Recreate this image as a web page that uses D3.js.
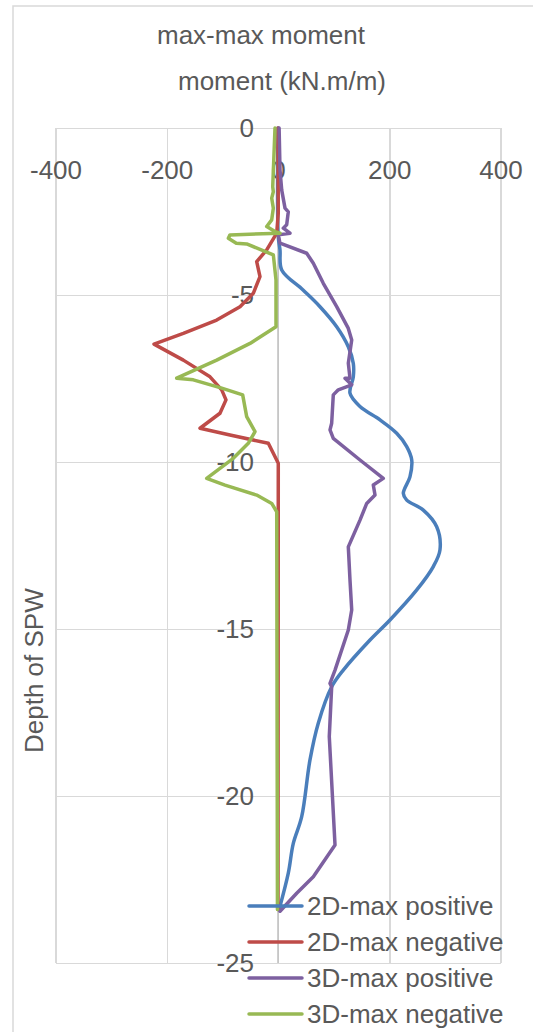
<!DOCTYPE html>
<meta charset="utf-8">
<style>
body { margin: 0; background: #fff; }
text { font-family: "Liberation Sans", Arial, sans-serif; fill: #595959; }
.grid line { stroke: #d9d9d9; stroke-width: 1.5px; shape-rendering: crispEdges; }
.grid path { stroke-width: 0; }
.axis path, .axis line { stroke: none; }
.axis text { font-size: 26px; fill: #595959; }
.series { fill: none; stroke-width: 3.5px; stroke-linejoin: round; stroke-linecap: round; }
</style>
<body>
<script src="https://d3js.org/d3.v7.min.js"></script>
<script>

// tick values
var xTicks = [-400, -200, 0, 200, 400];
var yTicks = [0, -5, -10, -15, -20, -25];

// 2D-max positive
var pos2dDepth = [0, -3.25, -3.65, -4.25, -4.85, -5.35, -5.95, -6.55, -7.05, -7.45, -7.94, -8.34, -8.74, -9.14, -9.54, -9.94, -10.44, -10.94, -11.14, -11.44, -11.94, -12.63, -13.13, -13.83, -14.73, -15.33, -16.23, -16.73, -17.82, -18.92, -20.62, -21.42, -22.31, -23.4];
var pos2dValue = [0, 0.5, 3.6, 6.7, 45, 75.5, 105.5, 126.4, 135.4, 135.4, 129.4, 147.4, 183.4, 213.4, 231.4, 240.4, 237.3, 225.3, 231.4, 261.2, 285.3, 291.2, 279.2, 249.4, 201.3, 165.4, 117.4, 96.5, 72.4, 57.5, 42.6, 27.5, 18.5, 2];

// 2D-max negative
var neg2dDepth = [0, -2.54, -3.15, -3.65, -4.0, -4.45, -4.95, -5.35, -5.75, -6.15, -6.47, -6.95, -7.45, -7.84, -8.14, -8.54, -8.99, -9.19, -9.44, -10.04, -23.4];
var neg2dValue = [0, 0.5, -2.3, -20.3, -38.3, -32.4, -44.4, -68.3, -110.2, -170.2, -222.9, -170.2, -122.2, -101.2, -93.5, -104.3, -140.2, -86.3, -17.4, 0.5, 0];

// 3D-max positive
var pos3dDepth = [0, -1.26, -1.86, -2.40, -2.51, -2.90, -3.0, -3.15, -3.2, -3.45, -3.75, -4.05, -4.65, -5.35, -6.0, -6.35, -7.04, -7.49, -7.49, -7.69, -7.84, -7.99, -8.84, -9.04, -9.29, -9.94, -10.49, -10.69, -10.99, -11.24, -11.74, -12.54, -13.53, -14.43, -15.03, -16.23, -16.63, -16.73, -18.22, -21.47, -22.42, -22.91, -23.45];
var pos3dValue = [2, 3.6, 6.7, 12.6, 18.5, 15.6, 9.5, 21.6, 0.5, 3.6, 51.6, 63.5, 81.4, 105.5, 126.4, 132.5, 126.4, 129.4, 120.4, 132.5, 108.4, 99.4, 96.5, 93.5, 99.4, 147.4, 189.3, 171.3, 174.4, 159.5, 147.4, 126.4, 129.4, 132.5, 126.4, 102.5, 93.5, 96.5, 92.2, 102.5, 63.5, 33.6, 3.6];

// 3D-max negative
var neg3dDepth = [0, -1.76, -1.91, -2.10, -2.40, -2.75, -2.95, -3.10, -3.15, -3.20, -3.30, -3.45, -3.47, -3.80, -4.55, -5.95, -6.45, -6.95, -7.49, -7.54, -7.79, -7.99, -8.64, -9.09, -9.44, -9.89, -10.49, -10.69, -10.99, -11.24, -11.49, -23.4];
var neg3dValue = [-5.4, -9.5, -8.4, -11.3, -8.4, -11.3, -20.3, -5.4, 3.6, -86.3, -89.3, -75, -56.3, -8.4, -3.6, -3.6, -50.3, -110.2, -182.1, -152.3, -101.2, -63.5, -56.3, -41.3, -53.4, -80.4, -128.2, -95.3, -38.3, -11.3, -2.3, -1];

var seriesNames = ["2D-max positive", "2D-max negative", "3D-max positive", "3D-max negative"];
var seriesColors = ["#4a7ebb", "#be4b48", "#7d60a0", "#98b954"];

var series = [
  {name: seriesNames[0], color: seriesColors[0], depth: pos2dDepth, value: pos2dValue, smooth: true},
  {name: seriesNames[1], color: seriesColors[1], depth: neg2dDepth, value: neg2dValue},
  {name: seriesNames[2], color: seriesColors[2], depth: pos3dDepth, value: pos3dValue},
  {name: seriesNames[3], color: seriesColors[3], depth: neg3dDepth, value: neg3dValue}
];

var W = 533, H = 1032;
var plot = {left: 55.5, right: 500.5, top: 128, bottom: 963};

var x = d3.scaleLinear().domain([-400, 400]).range([plot.left, plot.right]);
var y = d3.scaleLinear().domain([0, -25]).range([plot.top, plot.bottom]);

// plain hyphen for negatives, like the original
var fmt = function(d) { return String(d); };

var svg = d3.select("body").append("svg")
    .attr("width", W)
    .attr("height", H);

// chart area border
svg.append("rect")
    .attr("x", 13).attr("y", 6)
    .attr("width", 560).attr("height", 1060)
    .attr("fill", "none")
    .attr("stroke", "#d9d9d9")
    .attr("stroke-width", 1.5);

// vertical gridlines
svg.append("g")
    .attr("class", "grid")
    .attr("transform", "translate(0," + plot.top + ")")
    .call(d3.axisBottom(x).tickValues(xTicks)
        .tickSize(plot.bottom - plot.top)
        .tickFormat(""));

// horizontal gridlines
svg.append("g")
    .attr("class", "grid")
    .attr("transform", "translate(" + plot.left + ",0)")
    .call(d3.axisRight(y).tickValues(yTicks)
        .tickSize(plot.right - plot.left)
        .tickFormat(""));

// vertical axis line at zero
svg.append("line")
    .attr("x1", x(0)).attr("x2", x(0))
    .attr("y1", plot.top).attr("y2", plot.bottom)
    .attr("stroke", "#bfbfbf")
    .attr("stroke-width", 1.5);

// x axis labels (below the top edge)
svg.append("g")
    .attr("class", "axis")
    .attr("transform", "translate(0," + plot.top + ")")
    .call(d3.axisBottom(x).tickValues(xTicks).tickFormat(fmt).tickSize(0).tickPadding(33));

// y axis labels
svg.append("g")
    .attr("class", "axis")
    .attr("transform", "translate(" + x(0) + ",0)")
    .call(d3.axisLeft(y).tickValues(yTicks).tickFormat(fmt).tickSize(0).tickPadding(24));

svg.selectAll(".axis .domain").remove();

// lines
series.forEach(function(s) {
  var line = d3.line()
      .x(function(d) { return x(d[1]); })
      .y(function(d) { return y(d[0]); })
      .curve(s.smooth ? d3.curveCatmullRom.alpha(0.5) : d3.curveLinear);
  svg.append("path")
      .datum(d3.zip(s.depth, s.value))
      .attr("class", "series")
      .attr("stroke", s.color)
      .attr("d", line);
});

// titles
svg.append("text")
    .attr("x", 261).attr("y", 44)
    .attr("text-anchor", "middle")
    .style("font-size", "26px")
    .text("max-max moment");

svg.append("text")
    .attr("x", 282).attr("y", 90)
    .attr("text-anchor", "middle")
    .style("font-size", "26px")
    .text("moment (kN.m/m)");

svg.append("text")
    .attr("transform", "translate(43,753) rotate(-90)")
    .attr("text-anchor", "start")
    .style("font-size", "26px")
    .text("Depth of SPW");

// legend
var legend = svg.append("g");
series.forEach(function(s, i) {
  var ly = 906 + i * 36;
  legend.append("line")
      .attr("x1", 249).attr("x2", 302)
      .attr("y1", ly).attr("y2", ly)
      .attr("stroke", s.color)
      .attr("stroke-width", 3.5)
      .attr("stroke-linecap", "round");
  legend.append("text")
      .attr("x", 307).attr("y", ly)
      .attr("dy", "0.35em")
      .style("font-size", "26px")
      .text(s.name);
});

</script>
</body>
